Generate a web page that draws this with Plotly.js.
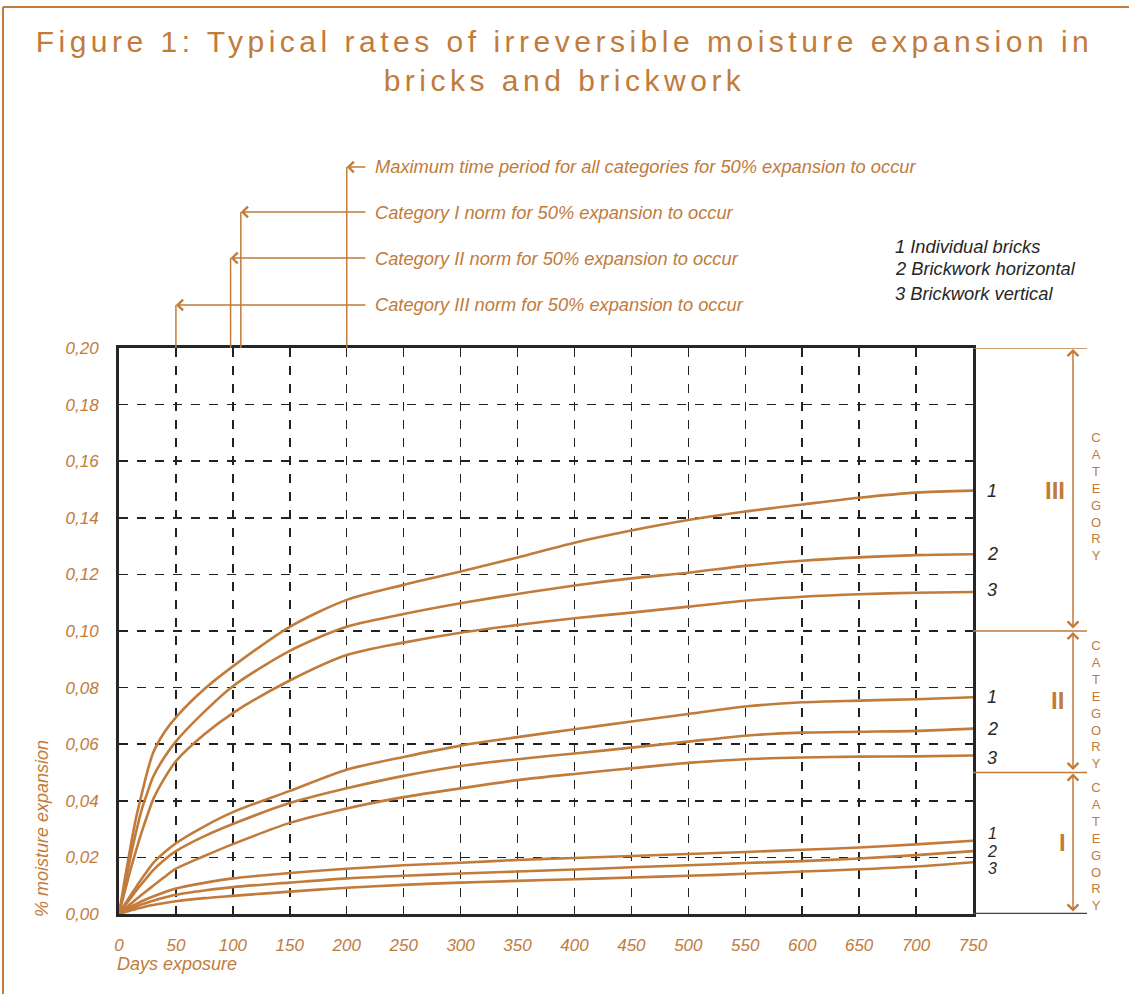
<!DOCTYPE html>
<html>
<head>
<meta charset="utf-8">
<script src="https://cdn.plot.ly/plotly-3.0.1.min.js"></script>
<style>html,body{margin:0;padding:0;background:#fff;}#chart{width:1129px;height:994px;}.gtitle{letter-spacing:4.5px;}</style>
</head>
<body>
<div id="chart"></div>
<script>
// ---- data ----
const days = [0, 5, 10, 15, 20, 25, 30, 40, 50, 75, 100, 150, 200, 250, 300, 350, 400, 450, 500, 550, 600, 650, 700, 750];

const catIII_1 = [0, 0.012, 0.0235, 0.034, 0.0425, 0.0505, 0.057, 0.0643, 0.0695, 0.0795, 0.0875, 0.1015, 0.111, 0.1163, 0.121, 0.126, 0.1312, 0.1355, 0.1392, 0.1422, 0.1447, 0.1471, 0.1489, 0.1496];
const catIII_2 = [0, 0.010, 0.020, 0.029, 0.037, 0.043, 0.0485, 0.0555, 0.061, 0.0715, 0.0805, 0.093, 0.1015, 0.106, 0.1098, 0.1131, 0.1161, 0.1186, 0.1206, 0.123, 0.1248, 0.126, 0.1268, 0.1271];
const catIII_3 = [0, 0.0078, 0.0155, 0.0225, 0.029, 0.035, 0.0405, 0.048, 0.054, 0.0635, 0.071, 0.0825, 0.0915, 0.0959, 0.0994, 0.1021, 0.1045, 0.1065, 0.1086, 0.1107, 0.1121, 0.113, 0.1135, 0.1138];

const catII_1 = [0, 0.0033, 0.0065, 0.0095, 0.0125, 0.0153, 0.018, 0.0218, 0.025, 0.031, 0.036, 0.0435, 0.051, 0.0555, 0.0595, 0.0625, 0.0653, 0.068, 0.0707, 0.0733, 0.0748, 0.0754, 0.0759, 0.0766];
const catII_2 = [0, 0.0028, 0.0055, 0.0082, 0.0107, 0.0131, 0.0155, 0.0192, 0.0222, 0.0275, 0.0318, 0.0392, 0.0444, 0.0488, 0.0523, 0.0547, 0.0567, 0.0588, 0.0609, 0.063, 0.0641, 0.0644, 0.0647, 0.0655];
const catII_3 = [0, 0.0018, 0.0035, 0.0052, 0.0068, 0.0084, 0.010, 0.0131, 0.016, 0.0205, 0.0247, 0.0322, 0.0373, 0.0413, 0.0444, 0.0473, 0.0495, 0.0515, 0.0534, 0.0547, 0.0553, 0.0556, 0.0557, 0.056];

const catI_1 = [0, 0.0013, 0.0025, 0.0035, 0.0045, 0.0054, 0.0062, 0.0077, 0.009, 0.011, 0.0126, 0.0145, 0.016, 0.0172, 0.0181, 0.0191, 0.0198, 0.0205, 0.0212, 0.0219, 0.0227, 0.0235, 0.0246, 0.0259];
const catI_2 = [0, 0.0009, 0.0018, 0.0026, 0.0034, 0.0041, 0.0047, 0.0058, 0.0068, 0.0083, 0.0095, 0.0111, 0.0126, 0.0135, 0.0143, 0.015, 0.0157, 0.0165, 0.0172, 0.018, 0.0187, 0.0196, 0.0208, 0.0222];
const catI_3 = [0, 0.0006, 0.0012, 0.0018, 0.0023, 0.0028, 0.0032, 0.0039, 0.0045, 0.0056, 0.0064, 0.0079, 0.0093, 0.0103, 0.0111, 0.0117, 0.0123, 0.0129, 0.0135, 0.0142, 0.015, 0.0158, 0.0168, 0.0183];

const seriesNames = ['Individual bricks', 'Brickwork horizontal', 'Brickwork vertical'];
const categoryNames = ['III', 'II', 'I'];
const categoryBounds = [[0.20, 0.10], [0.10, 0.05], [0.05, 0.00]];
const xTicks = [0, 50, 100, 150, 200, 250, 300, 350, 400, 450, 500, 550, 600, 650, 700, 750];
const yTicks = [0, 0.02, 0.04, 0.06, 0.08, 0.10, 0.12, 0.14, 0.16, 0.18, 0.20];

// norm markers: day value and label
const normDays = [200, 107, 98, 50];
const normLabels = [
  'Maximum time period for all categories for 50% expansion to occur',
  'Category I norm for 50% expansion to occur',
  'Category II norm for 50% expansion to occur',
  'Category III norm for 50% expansion to occur'
];

// ---- styling ----
const ORANGE = '#C17B3B';
const DARK = '#262626';
const FONT = 'Liberation Sans, Arial, sans-serif';

// plot geometry (pixels)
const W = 1129, H = 994;
const M = {l: 119, r: 156, t: 348, b: 80};
const PW = W - M.l - M.r, PH = H - M.t - M.b;
const px2paperX = p => (p - M.l) / PW;
const px2paperY = p => (H - M.b - p) / PH;

const allSeries = [
  [catIII_1, catIII_2, catIII_3],
  [catII_1, catII_2, catII_3],
  [catI_1, catI_2, catI_3]
];

const traces = [];
allSeries.forEach((grp, gi) => {
  grp.forEach((ys, si) => {
    traces.push({
      x: days, y: ys, type: 'scatter', mode: 'lines',
      name: 'Category ' + categoryNames[gi] + ' – ' + seriesNames[si],
      line: {color: ORANGE, width: 2.6, shape: 'spline', smoothing: 0.8},
      hoverinfo: 'x+y', showlegend: false
    });
  });
});

const shapes = [];
const annotations = [];

// outer frame lines (top and left)
shapes.push({type: 'line', xref: 'paper', yref: 'paper', x0: px2paperX(3), x1: px2paperX(W), y0: px2paperY(7), y1: px2paperY(7), line: {color: ORANGE, width: 2}});
shapes.push({type: 'line', xref: 'paper', yref: 'paper', x0: px2paperX(3), x1: px2paperX(3), y0: px2paperY(7), y1: px2paperY(H), line: {color: ORANGE, width: 2}});

// norm markers above plot
const normY = [167, 212, 258, 305];
normDays.forEach((d, i) => {
  const yp = px2paperY(normY[i]);
  shapes.push({type: 'line', xref: 'x', yref: 'paper', x0: d, x1: d, y0: 1, y1: yp, line: {color: ORANGE, width: 1.5}});
  const tipPx = M.l + d / 750 * PW;
  annotations.push({xref: 'x', yref: 'paper', x: d, y: yp, text: '', showarrow: true,
    axref: 'pixel', ayref: 'pixel', ax: 367 - tipPx, ay: 0,
    arrowhead: 4, arrowsize: 1.4, arrowwidth: 1.5, arrowcolor: ORANGE, standoff: 0});
  annotations.push({xref: 'paper', yref: 'paper', x: px2paperX(373), y: yp, xanchor: 'left', yanchor: 'middle',
    text: '<i>' + normLabels[i] + '</i>', showarrow: false,
    font: {family: FONT, size: 18.3, color: ORANGE}});
});

// legend text top right
seriesNames.forEach((n, i) => {
  annotations.push({xref: 'paper', yref: 'paper', x: px2paperX(893), y: px2paperY([246, 269, 293][i]),
    xanchor: 'left', yanchor: 'middle', showarrow: false,
    text: '<i>' + (i + 1) + ' ' + n + '</i>', font: {family: FONT, size: 18.3, color: DARK}});
});

// curve end labels 1/2/3
const labelShift = [[0, 0, 2], [0, 0, -2], [7, 0, -6]];
allSeries.forEach((grp, gi) => {
  grp.forEach((ys, si) => {
    annotations.push({xref: 'x', yref: 'y', x: 750, y: ys[ys.length - 1], xshift: 19, yshift: labelShift[gi][si],
      text: '<i>' + (si + 1) + '</i>', showarrow: false, xanchor: 'center', yanchor: 'middle',
      font: {family: FONT, size: gi === 2 ? 16 : 18, color: DARK}});
  });
});

// right-hand category brackets
const bracketX = px2paperX(1073);
[0.20, 0.10, 0.05].forEach(v => {
  shapes.push({type: 'line', xref: 'paper', yref: 'y', x0: 1, x1: px2paperX(1087), y0: v, y1: v, line: {color: ORANGE, width: 1.5}});
});
shapes.push({type: 'line', xref: 'paper', yref: 'y', x0: 1, x1: px2paperX(1087), y0: 0, y1: 0, line: {color: '#444', width: 2.5}});

const romanY = [0.1498, 0.0756, 0.0251];
const romanX = [1055, 1057, 1062];
const catTextY = [0.1475, 0.0742, 0.024];
categoryBounds.forEach((b, i) => {
  annotations.push({xref: 'paper', yref: 'y', x: bracketX, y: b[0], axref: 'pixel', ayref: 'y', ax: 0, ay: b[1],
    text: '', showarrow: true, arrowside: 'end+start', arrowhead: 4, startarrowhead: 4,
    arrowsize: 1.4, startarrowsize: 1.4, arrowwidth: 1.5, arrowcolor: ORANGE, standoff: 1, startstandoff: 1});
  annotations.push({xref: 'paper', yref: 'y', x: px2paperX(romanX[i]), y: romanY[i], showarrow: false,
    text: '<b>' + categoryNames[i] + '</b>', xanchor: 'center', yanchor: 'middle',
    font: {family: FONT, size: 24, color: ORANGE}});
  annotations.push({xref: 'paper', yref: 'y', x: px2paperX(1096), y: catTextY[i], showarrow: false,
    text: 'CATEGORY'.split('').join('<br>'), xanchor: 'center', yanchor: 'middle',
    font: {family: FONT, size: 13, color: ORANGE}});
});

// axis titles
annotations.push({xref: 'paper', yref: 'paper', x: px2paperX(115), y: px2paperY(964), xanchor: 'left', yanchor: 'middle',
  showarrow: false, text: '<i>Days exposure</i>', font: {family: FONT, size: 18, color: ORANGE}});
annotations.push({xref: 'paper', yref: 'paper', x: px2paperX(42), y: px2paperY(829), xanchor: 'center', yanchor: 'middle',
  textangle: -90, showarrow: false, text: '<i>% moisture expansion</i>', font: {family: FONT, size: 18, color: ORANGE}});

const axisCommon = {
  showgrid: true, gridcolor: '#222', gridwidth: 1.5, griddash: 'dash',
  showline: true, mirror: true, linecolor: DARK, linewidth: 3,
  zeroline: false, ticks: '', fixedrange: true,
  tickfont: {family: FONT, size: 17, color: ORANGE, style: 'italic'}
};

const layout = {
  width: W, height: H, autosize: false,
  margin: M,
  paper_bgcolor: '#fff', plot_bgcolor: '#fff',
  separators: ',.',
  showlegend: false,
  title: {
    text: 'Figure 1: Typical rates of irreversible moisture expansion in<br>bricks and brickwork',
    font: {family: FONT, size: 30, color: ORANGE},
    x: 0.5, xanchor: 'center', xref: 'container',
    y: 1 - 52 / H, yanchor: 'top', yref: 'container'
  },
  xaxis: Object.assign({}, axisCommon, {range: [0, 750], tickmode: 'array', tickvals: xTicks, ticktext: xTicks.map(String), ticklabelstandoff: 14}),
  yaxis: Object.assign({}, axisCommon, {range: [0, 0.2], tickmode: 'array', tickvals: yTicks, ticktext: yTicks.map(v => v.toFixed(2).replace('.', ',')), ticklabelstandoff: 14}),
  shapes: shapes,
  annotations: annotations
};

Plotly.newPlot('chart', traces, layout, {displayModeBar: false, staticPlot: true});
</script>
</body>
</html>
